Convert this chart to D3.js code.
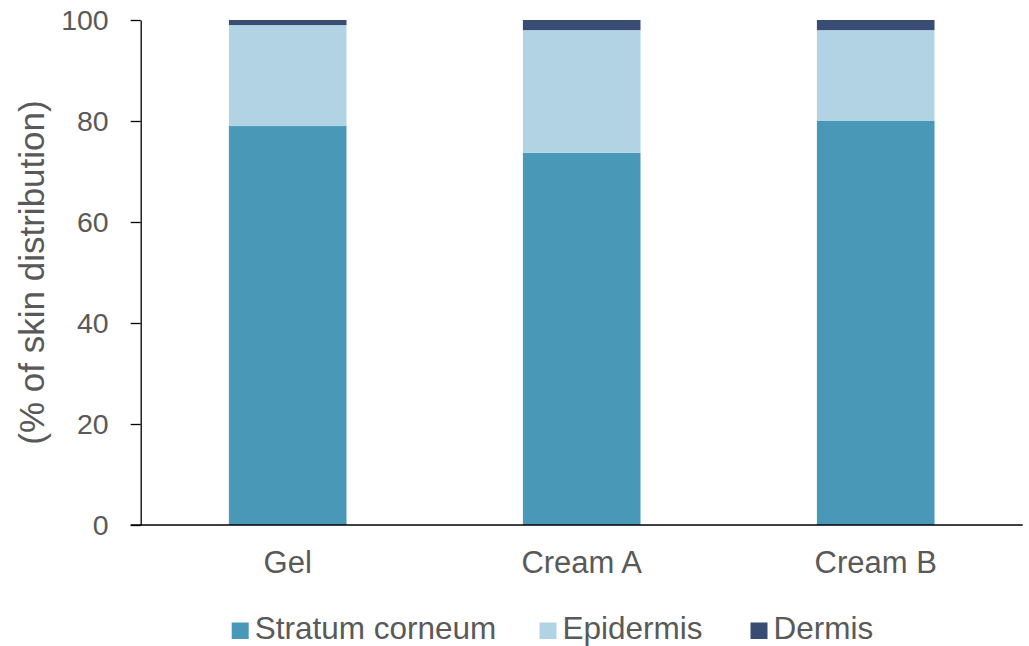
<!DOCTYPE html>
<html>
<head>
<meta charset="utf-8">
<script src="https://cdn.jsdelivr.net/npm/d3@7"></script>
<style>
  html, body { margin: 0; padding: 0; background: #fff; }
  svg { display: block; font-family: Arial, "Liberation Sans", sans-serif; }
</style>
</head>
<body>
<svg id="chart" width="1029" height="646"></svg>
<script>
// Skin distribution by formulation (percent of total recovered)
const categories = ["Gel", "Cream A", "Cream B"];
const seriesNames = ["Stratum corneum", "Epidermis", "Dermis"];
const stratumCorneum = [79, 73.7, 80];
const epidermis = [20, 24.3, 18];
const dermis = [1, 2, 2];
const yTicks = [0, 20, 40, 60, 80, 100];
const colors = ["#4a98b8", "#b2d3e3", "#394c74"];

const svg = d3.select("#chart");
const W = 1029, H = 646;
const margin = { left: 140.7, top: 20, right: W - 1022.7, bottom: H - 525 };
const textColor = "#595959";

const rows = categories.map((c, i) => ({
  cat: c,
  "Stratum corneum": stratumCorneum[i],
  "Epidermis": epidermis[i],
  "Dermis": dermis[i]
}));
const stacked = d3.stack().keys(seriesNames)(rows);

const x = d3.scaleBand()
  .domain(categories)
  .range([margin.left, W - margin.right])
  .paddingInner(0.6)
  .paddingOuter(0.3);

const y = d3.scaleLinear()
  .domain([0, 100])
  .range([H - margin.bottom, margin.top]);

// Stacked bars
svg.append("g")
  .selectAll("g")
  .data(stacked)
  .join("g")
  .attr("fill", (d, i) => colors[i])
  .selectAll("rect")
  .data(d => d)
  .join("rect")
  .attr("x", d => x(d.data.cat))
  .attr("width", x.bandwidth())
  .attr("y", d => y(d[1]))
  .attr("height", d => y(d[0]) - y(d[1]));

// Y axis
const yAxis = svg.append("g")
  .attr("transform", `translate(${margin.left},0)`)
  .call(d3.axisLeft(y).tickValues(yTicks).tickSize(10).tickPadding(22).tickSizeOuter(0));
yAxis.select(".domain").attr("stroke", "#000").attr("stroke-width", 1.3);
yAxis.selectAll(".tick line").attr("stroke", "#000").attr("stroke-width", 1.3);
yAxis.selectAll(".tick text")
  .attr("fill", textColor)
  .attr("font-size", 28.5)
  .attr("font-family", "Arial, 'Liberation Sans', sans-serif");

// X axis baseline (extends left to meet the zero tick)
const xAxis = svg.append("g")
  .attr("transform", `translate(0,${y(0)})`)
  .call(d3.axisBottom(x).tickSize(0).tickPadding(26).tickSizeOuter(0));
xAxis.select(".domain").remove();
xAxis.append("line")
  .attr("x1", margin.left - 10)
  .attr("x2", W - margin.right)
  .attr("stroke", "#000")
  .attr("stroke-width", 1.3);
xAxis.selectAll(".tick text")
  .attr("fill", textColor)
  .attr("font-size", 31)
  .attr("font-family", "Arial, 'Liberation Sans', sans-serif")
  .attr("dy", "0.71em");

// Y axis title
svg.append("text")
  .attr("transform", `translate(44,${(y(0) + y(100)) / 2}) rotate(-90)`)
  .attr("text-anchor", "middle")
  .attr("fill", textColor)
  .attr("font-size", 35)
  .text("(% of skin distribution)");

// Legend
const legendX = [231.7, 539.5, 750.5];
const legend = svg.append("g").attr("transform", "translate(0,622.5)");
seriesNames.forEach((name, i) => {
  const g = legend.append("g").attr("transform", `translate(${legendX[i]},0)`);
  g.append("rect").attr("width", 17).attr("height", 16.5).attr("fill", colors[i]);
  g.append("text")
    .attr("x", 23)
    .attr("y", 16)
    .attr("fill", textColor)
    .attr("font-size", 31.5)
    .text(name);
});
</script>
</body>
</html>
